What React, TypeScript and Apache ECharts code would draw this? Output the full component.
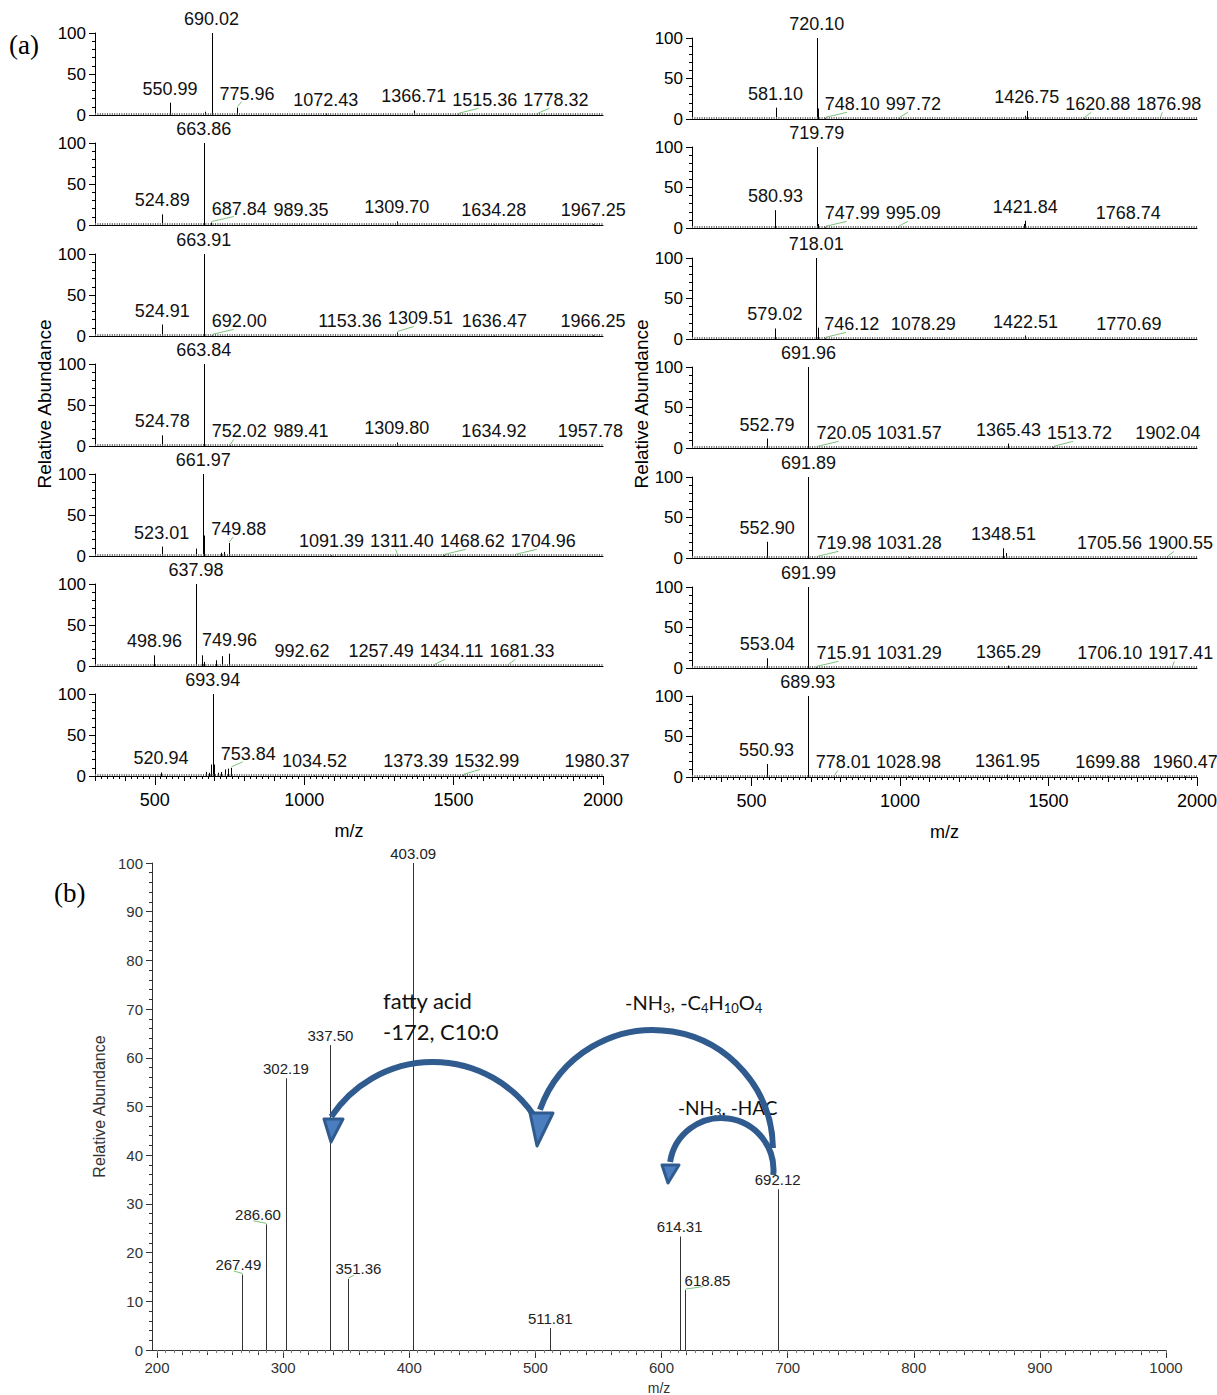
import React, { useEffect, useRef } from 'react';
import * as echarts from 'echarts';

// ---------- (a) left column spectra: [m/z, relative abundance] (labelled peaks) ----------
const specL1 = [[550.99, 15], [690.02, 100], [775.96, 9], [1072.43, 1.8], [1366.71, 5.5], [1515.36, 0.8], [1778.32, 0.8]];
const specL2 = [[524.89, 13], [663.86, 100], [687.84, 3], [989.35, 0.8], [1309.70, 4.3], [1634.28, 0.8], [1967.25, 0.8]];
const specL3 = [[524.91, 14], [663.91, 100], [692.00, 0.8], [1153.36, 0.8], [1309.51, 4.3], [1636.47, 0.8], [1966.25, 0.8]];
const specL4 = [[524.78, 13], [663.84, 100], [752.02, 0.8], [989.41, 0.8], [1309.80, 4.3], [1634.92, 0.8], [1957.78, 0.8]];
const specL5 = [[523.01, 11.5], [661.97, 100], [749.88, 16], [1091.39, 0.8], [1311.40, 0.8], [1468.62, 0.8], [1704.96, 0.8]];
const specL6 = [[498.96, 13], [637.98, 100], [749.96, 15], [992.62, 0.8], [1257.49, 1.5], [1434.11, 0.8], [1681.33, 0.8]];
const specL7 = [[520.94, 4.3], [693.94, 100], [753.84, 10], [1034.52, 0.8], [1373.39, 0.8], [1532.99, 0.8], [1980.37, 0.8]];
// unlabelled visible peaks
const minorL1 = [[668, 4]];
const minorL2 = [];
const minorL3 = [];
const minorL4 = [];
const minorL5 = [[639, 9], [666, 25], [722, 4], [733, 5]];
const minorL6 = [[659, 13], [666, 5], [705, 7], [725, 12]];
const minorL7 = [[672, 5], [680, 4], [688, 14], [699, 14], [712, 4], [722, 5], [735, 8], [745, 9]];

// ---------- (a) right column spectra ----------
const specR1 = [[581.10, 14], [720.10, 100], [748.10, 0.8], [997.72, 0.8], [1426.75, 10], [1620.88, 0.8], [1876.98, 0.8]];
const specR2 = [[580.93, 22], [719.79, 100], [747.99, 0.8], [995.09, 0.8], [1421.84, 9], [1768.74, 0.8]];
const specR3 = [[579.02, 13], [718.01, 100], [746.12, 0.8], [1078.29, 0.8], [1422.51, 4.3], [1770.69, 0.8]];
const specR4 = [[552.79, 11.7], [691.96, 100], [720.05, 0.8], [1031.57, 0.8], [1365.43, 5.5], [1513.72, 0.8], [1902.04, 0.8]];
const specR5 = [[552.90, 20], [691.89, 100], [719.98, 0.8], [1031.28, 0.8], [1348.51, 12], [1705.56, 0.8], [1900.55, 0.8]];
const specR6 = [[553.04, 12], [691.99, 100], [715.91, 0.8], [1031.29, 0.8], [1365.29, 3], [1706.10, 0.8], [1917.41, 0.8]];
const specR7 = [[550.93, 16], [689.93, 100], [778.01, 0.8], [1028.98, 0.8], [1361.95, 3], [1699.88, 0.8], [1960.47, 0.8]];
const minorR1 = [[724, 13], [1420, 4]];
const minorR2 = [[724, 5], [1416, 5]];
const minorR3 = [[724, 14]];
const minorR4 = [];
const minorR5 = [[1356, 6]];
const minorR6 = [];
const minorR7 = [[692, 4]];

// ---------- (b) MS/MS spectrum ----------
const specB = [[267.49, 15.5], [286.60, 25.8], [302.19, 55.8], [337.50, 62.6], [351.36, 14.6], [403.09, 100], [511.81, 4.5], [614.31, 23.3], [618.85, 12.3], [692.12, 33]];

// tick labels
const massTicksA = [500, 1000, 1500, 2000];
const abundTicksA = [0, 50, 100];
const massTicksB = [200, 300, 400, 500, 600, 700, 800, 900, 1000];
const abundTicksB = [0, 10, 20, 30, 40, 50, 60, 70, 80, 90, 100];

const leftSpectra = [specL1, specL2, specL3, specL4, specL5, specL6, specL7];
const leftMinor = [minorL1, minorL2, minorL3, minorL4, minorL5, minorL6, minorL7];
const rightSpectra = [specR1, specR2, specR3, specR4, specR5, specR6, specR7];
const rightMinor = [minorR1, minorR2, minorR3, minorR4, minorR5, minorR6, minorR7];

const FONT = "'Liberation Sans', Arial, Helvetica, sans-serif";
const ARROW = '#2f5b8f';
const HEAD = '#4a7ebf';
const plain = (v: number) => String(v);

let measureCtx: any = null;
function textWidth(t: string, size: number) {
  if (!measureCtx) measureCtx = document.createElement('canvas').getContext('2d');
  measureCtx.font = `${size}px 'Liberation Sans', Arial, sans-serif`;
  return measureCtx.measureText(t).width;
}

function layoutLabels(api: any, data: any[], cfg: any) {
  const pts = data.map((d) => {
    const t = api.coord([d[0], d[1]]);
    return { x: t[0], top: t[1], lab: d[2] === 1, text: d[0].toFixed(2) };
  });
  const order = pts.map((_p, i) => i).filter((i) => pts[i].lab).sort((a, b) => pts[a].x - pts[b].x);
  const placed: any[] = [];
  const res: any = {};
  for (const i of order) {
    const p = pts[i];
    const w = textWidth(p.text, cfg.size);
    const bottom = p.top - cfg.gap;
    const top = bottom - cfg.size;
    let l = p.x - w / 2;
    for (let iter = 0; iter < 10; iter++) {
      let moved = false;
      for (let j = 0; j < pts.length; j++) {
        if (j === i) continue;
        const q = pts[j];
        if (q.top < bottom && q.x > l - 2 && q.x < l + w + 2) {
          if (q.x >= p.x) l = q.x - cfg.pad - w;
          else l = q.x + cfg.pad;
          moved = true;
        }
      }
      for (const b of placed) {
        if (b.t < bottom && b.b > top && b.r + 3 > l && b.l < l + w) {
          l = b.r + 6;
          moved = true;
        }
      }
      if (!moved) break;
    }
    placed.push({ l, r: l + w, t: top, b: bottom });
    res[i] = { l, w, bottom, text: p.text, shifted: Math.abs(l + w / 2 - p.x) > 3 };
  }
  return res;
}

function makeRender(data: any[], cfg: any) {
  return (params: any, api: any) => {
    const layout = layoutLabels(api, data, cfg);
    const i = params.dataIndex;
    const d = data[i];
    const b = api.coord([d[0], 0]);
    const t = api.coord([d[0], d[1]]);
    const x = Math.round(b[0]) + 0.5;
    const children: any[] = [
      { type: 'line', shape: { x1: x, y1: b[1], x2: x, y2: t[1] }, style: { stroke: cfg.color, lineWidth: 1 } },
    ];
    const L = layout[i];
    if (L) {
      children.push({
        type: 'text',
        x: L.l + L.w / 2,
        y: L.bottom,
        style: { text: L.text, fill: cfg.textColor, font: `${cfg.size}px ${FONT}`, align: 'center', verticalAlign: 'bottom' },
      });
      if (L.shifted) {
        children.push({
          type: 'line',
          shape: { x1: x, y1: t[1] - 1, x2: L.l + L.w * 0.4, y2: L.bottom - 1 },
          style: { stroke: '#7cc47c', lineWidth: 1 },
        });
      }
    }
    return { type: 'group', children };
  };
}

function range(a: number, b: number, step: number) {
  const out: number[] = [];
  for (let v = a; v <= b + 1e-6; v += step) out.push(Math.round(v * 1000) / 1000);
  return out;
}

function buildOption() {
  const grids: any[] = [];
  const xAxes: any[] = [];
  const yAxes: any[] = [];
  const overlays: any[] = [];
  const series: any[] = [];
  const leftTops = [33, 143, 254, 364, 474, 584, 694];
  const rightTops = [38, 147, 258, 367, 477, 587, 696];
  const panels: any[] = [];
  for (let i = 0; i < 7; i++) {
    panels.push({ grid: { left: 95, top: leftTops[i], width: 508, height: 82 }, spec: leftSpectra[i], minor: leftMinor[i], bottom: i === 6 });
  }
  for (let i = 0; i < 7; i++) {
    panels.push({ grid: { left: 692, top: rightTops[i], width: 505, height: 81 }, spec: rightSpectra[i], minor: rightMinor[i], bottom: i === 6 });
  }
  const black = { color: '#000', width: 1 };
  panels.forEach((p, k) => {
    grids.push({ ...p.grid, outerBoundsMode: 'none' });
    xAxes.push({
      gridIndex: k, type: 'value', min: 300, max: 2000, interval: 100,
      axisLine: { show: true, onZero: false, lineStyle: black },
      axisTick: { show: p.bottom, length: 5, lineStyle: black },
      minorTick: { show: p.bottom, splitNumber: 5, length: 3, lineStyle: black },
      axisLabel: { show: p.bottom, customValues: massTicksA, formatter: plain, margin: 15, fontSize: 18, color: '#000', fontFamily: FONT },
      splitLine: { show: false }, minorSplitLine: { show: false },
      name: p.bottom ? 'm/z' : '', nameLocation: 'middle', nameGap: 46,
      nameTextStyle: { fontSize: 18, color: '#000', fontFamily: FONT },
    });
    if (p.bottom) {
      overlays.push({
        gridIndex: k, type: 'value', min: 300, max: 2000, position: 'bottom',
        axisLine: { show: false }, axisLabel: { show: false }, splitLine: { show: false },
        axisTick: { show: true, customValues: massTicksA, length: 9, lineStyle: black },
      });
    }
    yAxes.push({
      gridIndex: k, type: 'value', min: 0, max: 100, interval: 50,
      axisLine: { show: true, lineStyle: black },
      axisTick: { show: true, length: 6, lineStyle: black },
      minorTick: { show: true, splitNumber: 5, length: 3, lineStyle: black },
      axisLabel: { customValues: abundTicksA, formatter: plain, fontSize: 17, color: '#000', margin: 9, fontFamily: FONT },
      splitLine: { show: false }, minorSplitLine: { show: false },
    });
    const data = p.spec.map((d: number[]) => [d[0], d[1], 1]).concat(p.minor.map((d: number[]) => [d[0], d[1], 0]));
    series.push({
      type: 'custom', xAxisIndex: k, yAxisIndex: k, data, z: 3,
      renderItem: makeRender(data, { size: 18, gap: 5, pad: 8, color: '#000', textColor: '#111' }),
      markLine: {
        silent: true, symbol: ['none', 'none'], label: { show: false }, animation: false,
        lineStyle: { color: '#666', width: 2, type: [1, 1.4] },
        data: [{ yAxis: 1.4 }],
      },
    });
  });

  // panel (b)
  const kb = panels.length;
  const gray = { color: '#333', width: 1 };
  grids.push({ left: 152, top: 863, width: 1014, height: 487, outerBoundsMode: 'none' });
  xAxes.push({
    gridIndex: kb, type: 'value', min: 196, max: 1000,
    axisLine: { show: true, onZero: false, lineStyle: gray },
    axisTick: { show: true, customValues: massTicksB, length: 8, lineStyle: gray },
    axisLabel: { customValues: massTicksB, formatter: plain, margin: 10, fontSize: 15, color: '#333', fontFamily: FONT },
    splitLine: { show: false },
    name: 'm/z', nameLocation: 'middle', nameGap: 31,
    nameTextStyle: { fontSize: 14, color: '#333', fontFamily: FONT },
  });
  overlays.push({
    gridIndex: kb, type: 'value', min: 196, max: 1000, position: 'bottom',
    axisLine: { show: false }, axisLabel: { show: false }, splitLine: { show: false },
    axisTick: { show: true, customValues: range(200, 1000, 20), length: 5, lineStyle: gray },
  });
  overlays.push({
    gridIndex: kb, type: 'value', min: 196, max: 1000, position: 'bottom',
    axisLine: { show: false }, axisLabel: { show: false }, splitLine: { show: false },
    axisTick: { show: true, customValues: range(200, 1000, 20 / 3), length: 3, lineStyle: { color: '#777', width: 1 } },
  });
  yAxes.push({
    gridIndex: kb, type: 'value', min: 0, max: 100, interval: 10,
    axisLine: { show: true, lineStyle: gray },
    axisTick: { show: true, length: 6, lineStyle: gray },
    minorTick: { show: true, splitNumber: 5, length: 3, lineStyle: gray },
    axisLabel: { customValues: abundTicksB, formatter: plain, fontSize: 15, color: '#333', margin: 9, fontFamily: FONT },
    splitLine: { show: false }, minorSplitLine: { show: false },
    name: 'Relative Abundance', nameLocation: 'middle', nameGap: 39,
    nameTextStyle: { fontSize: 16, color: '#333', fontFamily: FONT },
  });
  const dataB = specB.map((d) => [d[0], d[1], 1]);
  series.push({
    type: 'custom', xAxisIndex: kb, yAxisIndex: kb, data: dataB, z: 3,
    renderItem: makeRender(dataB, { size: 15, gap: 2.5, pad: 5, color: '#333', textColor: '#222' }),
  });

  const arcStyle = { stroke: ARROW, lineWidth: 6, fill: 'none' };
  const headStyle = { fill: HEAD, stroke: ARROW, lineWidth: 3, lineJoin: 'round' };
  const noteFont = "20px Lato, 'Open Sans', sans-serif";
  const bigNote = "22px Lato, 'Open Sans', sans-serif";
  const graphic: any[] = [
    { type: 'text', x: 9, y: 45, style: { text: '(a)', font: "27px 'Liberation Serif', 'Times New Roman', serif", fill: '#000', verticalAlign: 'middle' } },
    { type: 'text', x: 54, y: 893, style: { text: '(b)', font: "27px 'Liberation Serif', 'Times New Roman', serif", fill: '#000', verticalAlign: 'middle' } },
    { type: 'text', x: 44, y: 404, rotation: Math.PI / 2, style: { text: 'Relative Abundance', font: `19px ${FONT}`, fill: '#000', align: 'center', verticalAlign: 'middle' } },
    { type: 'text', x: 641, y: 404, rotation: Math.PI / 2, style: { text: 'Relative Abundance', font: `19px ${FONT}`, fill: '#000', align: 'center', verticalAlign: 'middle' } },
    { type: 'text', x: 383, y: 1000, z: 90, style: { text: 'fatty acid', font: bigNote, fill: '#111', verticalAlign: 'middle' } },
    { type: 'text', x: 383, y: 1031, z: 90, style: { text: '-172, C10:0', font: bigNote, fill: '#111', verticalAlign: 'middle' } },
    {
      type: 'text', x: 625, y: 1002, z: 90,
      style: {
        text: '-NH{s|3}, -C{s|4}H{s|10}O{s|4}', font: noteFont, fill: '#111', verticalAlign: 'middle', lineHeight: 24,
        rich: { s: { fontSize: 13, fontFamily: 'Lato', fill: '#111', verticalAlign: 'bottom' } },
      },
    },
    {
      type: 'text', x: 678, y: 1107, z: 90,
      style: {
        text: '-NH{s|3}, -HAC', font: "19px Lato, 'Open Sans', sans-serif", fill: '#111', verticalAlign: 'middle', lineHeight: 24,
        rich: { s: { fontSize: 13, fontFamily: 'Lato', fill: '#111', verticalAlign: 'bottom' } },
      },
    },
    { type: 'arc', z: 100, shape: { cx: 653, cy: 1150, r: 120, startAngle: -2.80, endAngle: -0.017, clockwise: true }, style: arcStyle },
    { type: 'arc', z: 100, shape: { cx: 433, cy: 1184, r: 122, startAngle: -2.557, endAngle: -0.595, clockwise: true }, style: arcStyle },
    { type: 'arc', z: 100, shape: { cx: 721.5, cy: 1170, r: 52, startAngle: -2.987, endAngle: 0.097, clockwise: true }, style: arcStyle },
    { type: 'polygon', z: 101, shape: { points: [[530, 1113], [553, 1113], [537, 1146]] }, style: headStyle },
    { type: 'polygon', z: 101, shape: { points: [[324, 1119], [343, 1119], [331, 1142]] }, style: headStyle },
    { type: 'polygon', z: 101, shape: { points: [[662, 1165], [679, 1165], [668, 1183]] }, style: headStyle },
  ];

  return {
    animation: false,
    backgroundColor: '#fff',
    grid: grids,
    xAxis: xAxes.concat(overlays),
    yAxis: yAxes,
    series,
    graphic,
  };
}

export default function App() {
  const ref = useRef<HTMLDivElement>(null);
  useEffect(() => {
    if (!ref.current) return;
    const chart = echarts.init(ref.current, null, { renderer: 'svg' });
    chart.setOption(buildOption() as any);
    return () => chart.dispose();
  }, []);
  return <div ref={ref} style={{ position: 'absolute', left: 0, top: 0, width: 1217, height: 1395, background: '#fff' }} />;
}
